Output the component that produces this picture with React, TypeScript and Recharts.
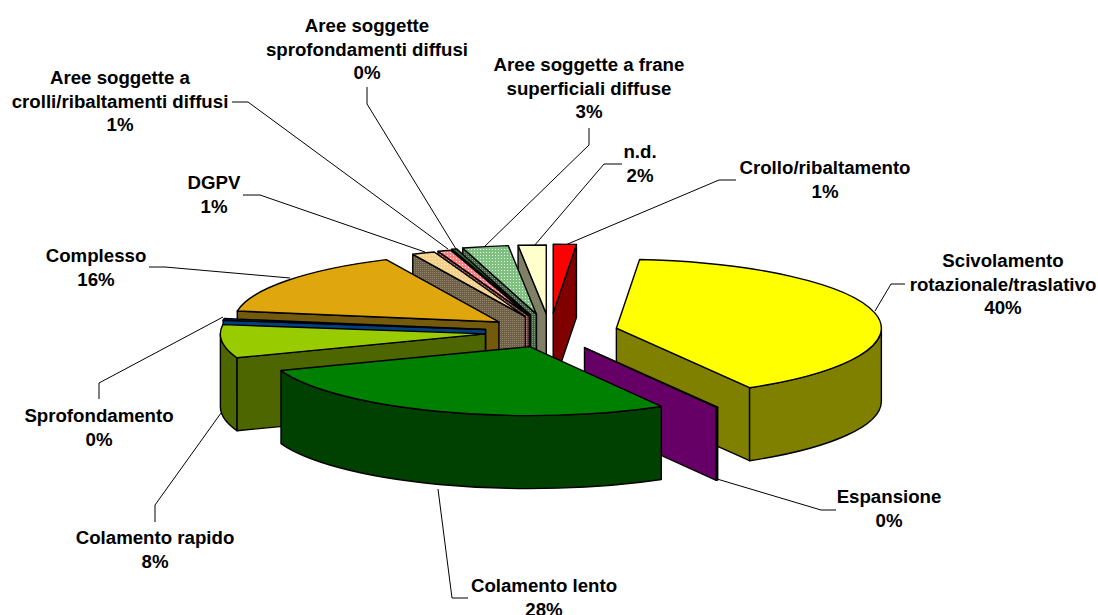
import React from 'react';
import { PieChart, Pie } from 'recharts';

const names = [
  'Crollo/ribaltamento',
  'Scivolamento rotazionale/traslativo',
  'Espansione',
  'Colamento lento',
  'Colamento rapido',
  'Sprofondamento',
  'Complesso',
  'DGPV',
  'Aree soggette a crolli/ribaltamenti diffusi',
  'Aree soggette sprofondamenti diffusi',
  'Aree soggette a frane superficiali diffuse',
  'n.d.',
];
const values = [1.4, 40.3, 0.1, 27.7, 7.8, 0.4, 15.5, 1.4, 0.8, 0.3, 2.8, 1.7];
const percents = ['1%', '40%', '0%', '28%', '8%', '0%', '16%', '1%', '1%', '0%', '3%', '2%'];

const data = names.map((name, i) => ({ name, value: values[i] }));

// back to front, the 3D slices overlap each other
const paintOrder = [0, 11, 10, 9, 8, 7, 6, 5, 4, 1, 2, 3];

const topFill = ['#ff0000', '#ffff00', '#660066', '#008000', '#99cc00', '#004080', '#e0a60d', 'url(#dotTan)', 'url(#dotPink)', '#336633', 'url(#dotGreen)', '#ffffcc'];
const sideFill = ['#800000', '#808000', '#660066', '#004000', '#4d6600', '#004080', '#735a0c', 'url(#speckBrown)', 'url(#speckPink)', '#1c331c', 'url(#speckGreen)', '#808066'];
const explode = [73, 68, 69, 60, 65, 65, 64, 64, 65, 68, 70, 70];

const RATIO = 0.26;
const DEPTH = 73;

const SliceShape = (props: any) => {
  const { cx, cy, outerRadius, startAngle, endAngle, index } = props;
  const rx = outerRadius;
  const ry = outerRadius * RATIO;
  const a0 = 90 - startAngle;
  const a1 = 90 - endAngle;
  const mid = (((a0 + a1) / 2) * Math.PI) / 180;
  const ox = cx + explode[index] * Math.sin(mid);
  const oy = cy - explode[index] * RATIO * Math.cos(mid);
  const pt = (deg: number, drop = 0) => {
    const r = (deg * Math.PI) / 180;
    return `${ox + rx * Math.sin(r)} ${oy - ry * Math.cos(r) + drop}`;
  };
  const line = { stroke: '#000', strokeWidth: 1.4, strokeLinejoin: 'round' as const };
  const large = a1 - a0 > 180 ? 1 : 0;

  const showStart = a0 > 180 && a0 < 360;
  const showEnd = a1 > 0 && a1 < 180;
  const w0 = Math.max(a0, 90);
  const w1 = Math.min(a1, 270);

  return (
    <g>
      {showStart && (
        <path {...line} fill={sideFill[index]} d={`M${ox} ${oy}L${pt(a0)}L${pt(a0, DEPTH)}L${ox} ${oy + DEPTH}Z`} />
      )}
      {showEnd && (
        <path {...line} fill={sideFill[index]} d={`M${ox} ${oy}L${pt(a1)}L${pt(a1, DEPTH)}L${ox} ${oy + DEPTH}Z`} />
      )}
      {w1 > w0 && (
        <path
          {...line}
          fill={sideFill[index]}
          d={`M${pt(w0)}A${rx} ${ry} 0 0 1 ${pt(w1)}L${pt(w1, DEPTH)}A${rx} ${ry} 0 0 0 ${pt(w0, DEPTH)}Z`}
        />
      )}
      <path {...line} fill={topFill[index]} d={`M${ox} ${oy}L${pt(a0)}A${rx} ${ry} 0 ${large} 1 ${pt(a1)}Z`} />
    </g>
  );
};

// text placement: centre x, first baseline, wrapped lines, leader polyline
const labels = [
  { i: 0, x: 825, y: 174, lines: ['Crollo/ribaltamento'], leader: '736,180 719,180 563,246' },
  { i: 1, x: 1003, y: 267, lines: ['Scivolamento', 'rotazionale/traslativo'], leader: '905,284 891,284 875,311' },
  { i: 2, x: 889, y: 503, lines: ['Espansione'], leader: '836,510 821,510 717,479' },
  { i: 3, x: 544, y: 592, lines: ['Colamento lento'], leader: '468,598 452,598 438,489' },
  { i: 4, x: 155, y: 544, lines: ['Colamento rapido'], leader: '155,522 155,505 221,413' },
  { i: 5, x: 99, y: 422, lines: ['Sprofondamento'], leader: '99,399 99,383 223,317' },
  { i: 6, x: 96, y: 262, lines: ['Complesso'], leader: '149,267 165,267 290,278' },
  { i: 7, x: 214, y: 189, lines: ['DGPV'], leader: '243,195 260,195 425,252' },
  { i: 8, x: 120, y: 84, lines: ['Aree soggette a', 'crolli/ribaltamenti diffusi'], leader: '232,102 248,102 448,249' },
  { i: 9, x: 367, y: 32, lines: ['Aree soggette', 'sprofondamenti diffusi'], leader: '367,87 367,104 456,249' },
  { i: 10, x: 589, y: 71, lines: ['Aree soggette a frane', 'superficiali diffuse'], leader: '589,128 589,145 483,248' },
  { i: 11, x: 640, y: 158, lines: ['n.d.'], leader: '622,164 604,164 534,246' },
];

const Dots = ({ id, bg, dot, size = 3 }: { id: string; bg: string; dot: string; size?: number }) => (
  <pattern id={id} width={size} height={size} patternUnits="userSpaceOnUse">
    <rect width={size} height={size} fill={bg} />
    <rect width={1} height={1} fill={dot} />
  </pattern>
);

export default function App() {
  return (
    <div style={{ position: 'absolute', left: 0, top: 0, width: 1098, height: 615, overflow: 'hidden', background: '#fff' }}>
      <PieChart width={1098} height={615} margin={{ top: 0, right: 0, bottom: 0, left: 0 }}>
        <defs>
          <Dots id="dotTan" bg="#f5d08a" dot="#fff0c8" />
          <Dots id="dotPink" bg="#ff8080" dot="#ffffff" />
          <Dots id="dotGreen" bg="#80c080" dot="#e8f8e8" />
          <Dots id="speckBrown" bg="#6f5f40" dot="#8f8570" size={2} />
          <Dots id="speckPink" bg="#804040" dot="#c09090" size={2} />
          <Dots id="speckGreen" bg="#406040" dot="#80a080" size={2} />
        </defs>
        {paintOrder.map((idx) => (
          <Pie
            key={idx}
            data={data}
            dataKey="value"
            nameKey="name"
            cx={550}
            cy={332}
            outerRadius={265}
            startAngle={90}
            endAngle={-270}
            isAnimationActive={false}
            shape={(p: any) => (p.index === idx ? <SliceShape {...p} /> : <g />)}
          />
        ))}
        {labels.map((l) => (
          <polyline key={`leader-${l.i}`} points={l.leader} fill="none" stroke="#000" strokeWidth={1} />
        ))}
        {labels.map((l) => (
          <text
            key={`label-${l.i}`}
            textAnchor="middle"
            fontFamily="Liberation Sans"
            fontWeight="bold"
            fontSize={18.67}
            fill="#000"
          >
            {[...l.lines, percents[l.i]].map((t, n) => (
              <tspan key={n} x={l.x} y={l.y + n * 23.7}>
                {t}
              </tspan>
            ))}
          </text>
        ))}
      </PieChart>
    </div>
  );
}
